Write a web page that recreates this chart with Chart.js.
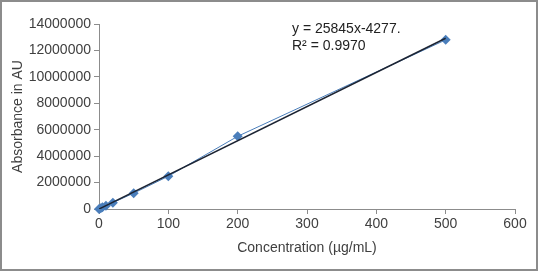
<!DOCTYPE html>
<html>
<head>
<meta charset="utf-8">
<script src="https://cdn.jsdelivr.net/npm/chart.js@4"></script>
<style>
  html, body { margin: 0; padding: 0; background: #fff; }
  #wrap { width: 538px; height: 271px; box-sizing: border-box; border: 2px solid #8c8c8c; background: #fff; }
  #c { display: block; }
</style>
</head>
<body>
<div id="wrap"><canvas id="c" width="534" height="267"></canvas></div>
<script>
// Data
const concentrations = [0, 2.5, 5, 10, 20, 50, 100, 200, 500];
const absorbance = [0, 60000, 130000, 250000, 480000, 1200000, 2480000, 5500000, 12800000];
// Trend line endpoints from the displayed equation y = 25845x - 4277
const trendX = [0, 500];
const trendY = [-4277, 12918223];
const equationLines = ["y = 25845x-4277.", "R\u00b2 = 0.9970"];
const xTitle = "Concentration (\u00b5g/mL)";
const yTitle = "Absorbance in AU";

const FONT = "'Liberation Sans', Arial, sans-serif";
const TXT = '#404040';
const AX = '#8c8c8c';

const seriesPts = concentrations.map((x, i) => ({x, y: absorbance[i]}));
const trendPts = trendX.map((x, i) => ({x, y: trendY[i]}));

const eqPlugin = {
  id: 'eq',
  afterDraw(chart) {
    const ctx = chart.ctx;
    ctx.save();
    ctx.font = '14px ' + FONT;
    ctx.fillStyle = '#222';
    ctx.textBaseline = 'middle';
    ctx.textAlign = 'left';
    equationLines.forEach((t, i) => ctx.fillText(t, 290, 27 + i * 17));
    ctx.restore();
  }
};

new Chart(document.getElementById('c'), {
  type: 'scatter',
  data: {
    datasets: [
      {
        label: 'trend',
        data: trendPts,
        showLine: true,
        borderColor: '#1c2433',
        borderWidth: 1.5,
        pointRadius: 0,
        order: 1
      },
      {
        label: 'data',
        data: seriesPts,
        showLine: true,
        borderColor: '#4a7ebb',
        borderWidth: 1,
        backgroundColor: '#4a7ebb',
        pointStyle: 'rectRot',
        pointRadius: 5,
        pointBorderWidth: 0,
        clip: false,
        order: 2
      }
    ]
  },
  options: {
    responsive: false,
    animation: false,
    devicePixelRatio: 1,
    layout: { padding: { top: 22, right: 21, left: 0, bottom: 12 } },
    plugins: { legend: { display: false }, tooltip: { enabled: false } },
    scales: {
      x: {
        type: 'linear',
        min: 0, max: 600,
        ticks: { stepSize: 100, color: TXT, font: { family: FONT, size: 14 }, padding: 2, maxRotation: 0 },
        grid: { drawOnChartArea: false, drawTicks: true, tickLength: 5, color: AX },
        border: { color: AX, width: 1 },
        title: { display: true, text: xTitle, color: TXT, font: { family: FONT, size: 14 }, padding: { top: 2, bottom: 0 } },
        afterFit(s) { s.height = 48; }
      },
      y: {
        type: 'linear',
        min: 0, max: 14000000,
        ticks: { stepSize: 2000000, color: TXT, font: { family: FONT, size: 14 }, padding: 3, callback: v => String(v) },
        grid: { drawOnChartArea: false, drawTicks: true, tickLength: 5, color: AX },
        border: { color: AX, width: 1 },
        title: { display: true, text: yTitle, color: TXT, font: { family: FONT, size: 14 }, padding: { top: 8, bottom: 0 } },
        afterFit(s) { s.width = 97; }
      }
    }
  },
  plugins: [eqPlugin]
});
</script>
</body>
</html>
